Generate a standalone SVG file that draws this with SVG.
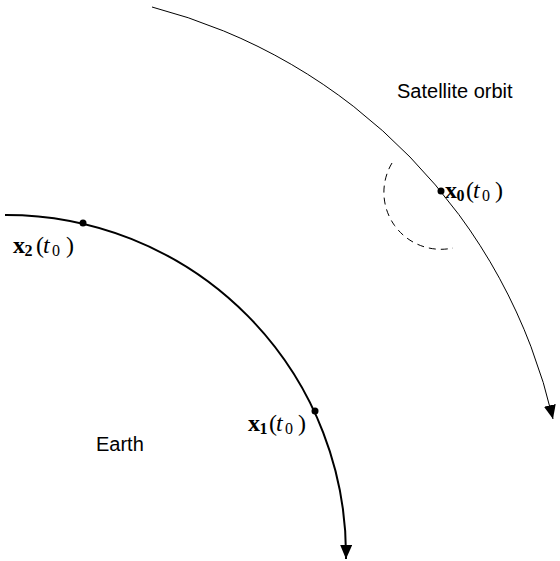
<svg xmlns="http://www.w3.org/2000/svg" width="560" height="561" viewBox="0 0 560 561">
<defs>
<style>
.orbit{fill:none;stroke:#000;stroke-width:1}
.earth{fill:none;stroke:#000;stroke-width:2}
.dash{fill:none;stroke:#000;stroke-width:1;stroke-dasharray:7 5}
.dot{fill:#000}
.lbl{font-family:"Liberation Sans","DejaVu Sans",sans-serif;font-size:20px;fill:#000}
.math{font-family:"Liberation Serif","DejaVu Serif",serif;font-size:24px;fill:#000}
.b{font-weight:bold}
.it{font-style:italic}
.sub{font-size:16px}
</style>
<marker id="arr" viewBox="0 0 14 12" refX="14" refY="6" markerWidth="14" markerHeight="12" markerUnits="userSpaceOnUse" orient="auto">
<path d="M0,0 L14,6 L0,12 z" fill="#000"/>
</marker>
</defs>
<g id="connectors">
<path id="satellite-orbit" class="orbit" d="M152,7 A555,555 0 0 1 553,419" marker-end="url(#arr)"/>
<path id="earth-surface" class="earth" d="M5,215 A340,340 0 0 1 346,559" marker-end="url(#arr)"/>
<path id="angle-arc" class="dash" d="M392,163 A57,57 0 0 0 453,248"/>
</g>
<g id="x0">
<circle class="dot" cx="441" cy="191" r="3.5"/>
<text class="math" y="198"><tspan class="b" x="445">x</tspan><tspan class="b sub" x="456.5" dy="3">0</tspan><tspan x="466" dy="-3">(</tspan><tspan class="it" x="473">t</tspan><tspan class="sub" x="482" dy="3">0</tspan><tspan x="495" dy="-3">)</tspan></text>
</g>
<g id="x1">
<circle class="dot" cx="315" cy="411" r="3.5"/>
<text class="math" y="431"><tspan class="b" x="248">x</tspan><tspan class="b sub" x="259.5" dy="3">1</tspan><tspan x="269" dy="-3">(</tspan><tspan class="it" x="276">t</tspan><tspan class="sub" x="285" dy="3">0</tspan><tspan x="298" dy="-3">)</tspan></text>
</g>
<g id="x2">
<circle class="dot" cx="83" cy="223" r="3.5"/>
<text class="math" y="253"><tspan class="b" x="13">x</tspan><tspan class="b sub" x="24.5" dy="3">2</tspan><tspan x="36" dy="-3">(</tspan><tspan class="it" x="43">t</tspan><tspan class="sub" x="52" dy="3">0</tspan><tspan x="66" dy="-3">)</tspan></text>
</g>
<g id="satellite-label">
<text class="lbl" x="397" y="98">Satellite orbit</text>
</g>
<g id="earth-label">
<text class="lbl" x="96" y="451">Earth</text>
</g>
</svg>
